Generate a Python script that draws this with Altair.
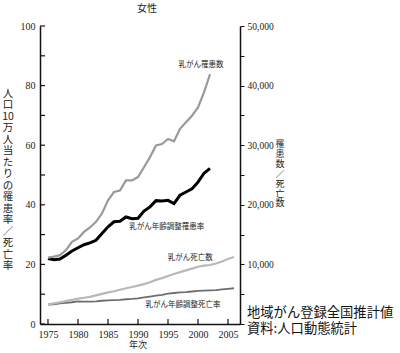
import altair as alt
import pandas as pd

# ---- data ----
years_inc = list(range(1975, 2003))
inc_rate = [22.0, 21.6, 21.8, 23.1, 24.5, 25.6, 26.6, 27.2, 28.1, 30.4, 32.6, 34.3, 34.5, 35.9,
            35.3, 35.5, 37.9, 39.3, 41.4, 41.3, 41.5, 40.4, 43.2, 44.3, 45.4, 47.6, 50.6, 52.2]
inc_count = [11150, 11300, 11550, 12400, 13800, 14350, 15450, 16200, 17150, 18550, 20750, 22150,
             22400, 24100, 24100, 24650, 26300, 28000, 29950, 30200, 31050, 30650, 32750, 33850,
             34950, 36350, 38850, 41900]

years_mort = list(range(1975, 2007))
death_count = [3300, 3450, 3650, 3850, 4050, 4250, 4400, 4550, 4800, 5050, 5300, 5500, 5750, 6000,
               6200, 6450, 6700, 7000, 7400, 7700, 8050, 8400, 8700, 9000, 9300, 9600, 9800, 9900,
               10150, 10500, 10900, 11250]
mort_rate = [6.5, 6.6, 6.9, 7.1, 7.3, 7.6, 7.5, 7.5, 7.6, 7.8, 7.9, 8.0, 8.1, 8.3, 8.4, 8.6, 8.9,
             9.2, 9.5, 9.8, 10.2, 10.4, 10.6, 10.7, 10.9, 11.1, 11.2, 11.3, 11.4, 11.6, 11.8, 12.0]

label_text = ["乳がん罹患数", "乳がん年齢調整罹患率", "乳がん死亡数", "乳がん年齢調整死亡率"]
label_year = [2000.5, 1994.8, 1998.7, 1997.5]
label_value = [86.9, 32.6, 22.1, 6.4]

x_ticks = [1975, 1980, 1985, 1990, 1995, 2000, 2005]
left_ticks = [0, 10, 20, 30, 40, 50, 60, 70, 80, 90, 100]
right_ticks = [0, 5000, 10000, 15000, 20000, 25000, 30000, 35000, 40000, 45000, 50000]

SERIF = "'Liberation Serif', 'DejaVu Serif', serif"
CJK = "Noto Sans CJK JP"

xscale = alt.Scale(domain=[1973.67, 2007], nice=False, zero=False)
lscale = alt.Scale(domain=[0, 100], nice=False, zero=False)
rscale = alt.Scale(domain=[0, 50000], nice=False, zero=False)

inc_df = pd.DataFrame({"year": years_inc, "rate": inc_rate, "count": inc_count})
mort_df = pd.DataFrame({"year": years_mort, "rate": mort_rate, "count": death_count})

x_axis = alt.Axis(values=x_ticks, format="d", title=None, labelFont=SERIF, labelFontSize=10,
                  labelColor="#222", domainColor="#111", domainWidth=1.5, ticks=False,
                  tickSize=0, labelPadding=5, grid=False)
left_axis = alt.Axis(values=[0, 20, 40, 60, 80, 100], title=None, labelFont=SERIF, labelFontSize=10,
                     labelColor="#222", domainColor="#111", domainWidth=1.5, ticks=False,
                     tickSize=0, labelPadding=5, grid=False)
right_axis = alt.Axis(values=right_ticks, orient="right", title=None, labelFont=SERIF,
                      labelFontSize=9.5, labelColor="#222", domainColor="#111", domainWidth=1.5,
                      tickSize=4, tickColor="#111", labelPadding=3, grid=False,
                      labelExpr="datum.value % 10000 == 0 && datum.value > 0 ? format(datum.value, ',') : ''")

X = lambda f: alt.X(f, scale=xscale, axis=x_axis)

# left-scale lines
inc_rate_line = alt.Chart(inc_df).mark_line(color="#000000", strokeWidth=3).encode(
    x=X("year:Q"),
    y=alt.Y("rate:Q", scale=lscale, axis=left_axis),
)
mort_rate_line = alt.Chart(mort_df).mark_line(color="#6e6e6e", strokeWidth=1.8).encode(
    x=X("year:Q"),
    y=alt.Y("rate:Q", scale=lscale, axis=None),
)
# right-scale lines
inc_count_line = alt.Chart(inc_df).mark_line(color="#9a9a9a", strokeWidth=2.2).encode(
    x=X("year:Q"),
    y=alt.Y("count:Q", scale=rscale, axis=right_axis),
)
death_count_line = alt.Chart(mort_df).mark_line(color="#b8b8b8", strokeWidth=2.2).encode(
    x=X("year:Q"),
    y=alt.Y("count:Q", scale=rscale, axis=None),
)

# inward ticks on left and bottom axes
left_tick_rules = alt.Chart(pd.DataFrame({"v": left_ticks})).mark_rule(color="#111", strokeWidth=1.2).encode(
    y=alt.Y("v:Q", scale=lscale, axis=None),
    x=alt.value(0), x2=alt.value(5),
)
bottom_tick_rules = alt.Chart(pd.DataFrame({"year": x_ticks})).mark_rule(color="#111", strokeWidth=1.2).encode(
    x=X("year:Q"),
    y=alt.value(293), y2=alt.value(298),
)

# line labels
labels = alt.Chart(pd.DataFrame({"t": label_text, "year": label_year, "v": label_value})).mark_text(
    font=CJK, fontSize=7.5, color="#222", align="center", baseline="middle"
).encode(
    x=X("year:Q"),
    y=alt.Y("v:Q", scale=lscale, axis=None),
    text="t:N",
)

def fixed_text(txt, x, y, size, align="center", baseline="middle", font=CJK, color="#222",
               line_height=None):
    kw = dict(font=font, fontSize=size, color=color, align=align, baseline=baseline, lineBreak="\n")
    if line_height is not None:
        kw["lineHeight"] = line_height
    return alt.Chart(pd.DataFrame({"t": [txt]})).mark_text(**kw).encode(
        text="t:N", x=alt.value(x), y=alt.value(y)
    )

title_t = fixed_text("女性", 107, -17, 10)
xtitle_t = fixed_text("年次", 98, 319, 9)
left_title = fixed_text("\n".join(["人", "口", "10", "万", "人", "当", "た", "り", "の", "罹", "患", "率", "／", "死", "亡", "率"]),
                        -32, 63, 10.5, baseline="top", line_height=11.47)
right_title = fixed_text("\n".join(["罹", "患", "数", "／", "死", "亡", "数"]),
                         240, 114, 9, baseline="top", line_height=9.9)
note1 = fixed_text("地域がん登録全国推計値", 207, 286.5, 13.3, align="left", color="#111")
note2 = fixed_text("資料:人口動態統計", 207, 302.5, 13.3, align="left", color="#111")

chart = alt.layer(
    inc_rate_line, mort_rate_line, inc_count_line, death_count_line,
    left_tick_rules, bottom_tick_rules, labels,
    title_t, xtitle_t, left_title, right_title, note1, note2,
).resolve_scale(y="independent", x="shared").properties(
    width=200, height=298,
    autosize=alt.AutoSizeParams(type="none"),
    padding={"left": 40, "top": 26, "right": 160, "bottom": 29},
    background="white",
).configure_view(stroke=None)

chart.save("out.html", embed_options={"renderer": "svg", "actions": False})
